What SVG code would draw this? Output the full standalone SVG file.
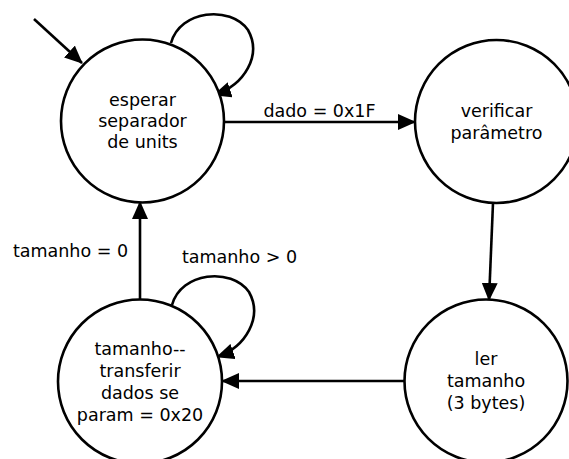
<svg xmlns="http://www.w3.org/2000/svg" width="569" height="459" viewBox="0 0 569 459">
  <style>
    .state { fill: #ffffff; stroke: #000000; stroke-width: 2.6; }
    .edge { fill: none; stroke: #000000; stroke-width: 2.6; marker-end: url(#arrow); }
    text { font-family: "DejaVu Sans", Verdana, sans-serif; font-size: 17.5px; fill: #000000; text-anchor: middle; }
  </style>
  <defs>
    <marker id="arrow" markerUnits="userSpaceOnUse" markerWidth="18" markerHeight="16" viewBox="0 0 18 16" refX="17" refY="8" orient="auto">
      <path d="M0,0 L18,8 L0,16 Z" fill="#000000"/>
    </marker>
  </defs>

  <rect width="569" height="459" fill="#ffffff"/>

  <g id="connectors">
    <!-- initial arrow -->
    <path class="edge" d="M34,19 L82,63"/>
    <!-- self loop on the waiting state -->
    <path class="edge" d="M171,43 C180,10 230,5 248,30 C262,55 245,85 214,95"/>
    <!-- waiting state to parameter check -->
    <path class="edge" d="M224,122 L415,122"/>
    <!-- parameter check to size read -->
    <path class="edge" d="M493,203 L489,300"/>
    <!-- size read to transfer state -->
    <path class="edge" d="M405,381 L222,381"/>
    <!-- transfer state back to waiting state -->
    <path class="edge" d="M140,299 L140,202"/>
    <!-- self loop on the transfer state -->
    <path class="edge" d="M172,305 C181,272 231,267 249,292 C263,317 246,347 217,357"/>
    <text x="319.5" y="117">dado = 0x1F</text>
    <text x="70.5" y="257">tamanho = 0</text>
    <text x="239.5" y="263">tamanho &gt; 0</text>
  </g>

  <g id="esperar">
    <circle class="state" cx="142.5" cy="121" r="81.5"/>
    <text x="142.5" y="106">esperar</text>
    <text x="142.5" y="127">separador</text>
    <text x="142.5" y="148">de units</text>
  </g>

  <g id="verificar">
    <circle class="state" cx="496.5" cy="121.5" r="81.5"/>
    <text x="496.5" y="117">verificar</text>
    <text x="496.5" y="139">parâmetro</text>
  </g>

  <g id="ler">
    <circle class="state" cx="486" cy="381" r="81.5"/>
    <text x="486" y="365">ler</text>
    <text x="486" y="387">tamanho</text>
    <text x="486" y="409">(3 bytes)</text>
  </g>

  <g id="transferir">
    <circle class="state" cx="140" cy="381.5" r="82"/>
    <text x="140" y="355">tamanho--</text>
    <text x="140" y="377">transferir</text>
    <text x="140" y="399">dados se</text>
    <text x="140" y="421">param = 0x20</text>
  </g>
</svg>
